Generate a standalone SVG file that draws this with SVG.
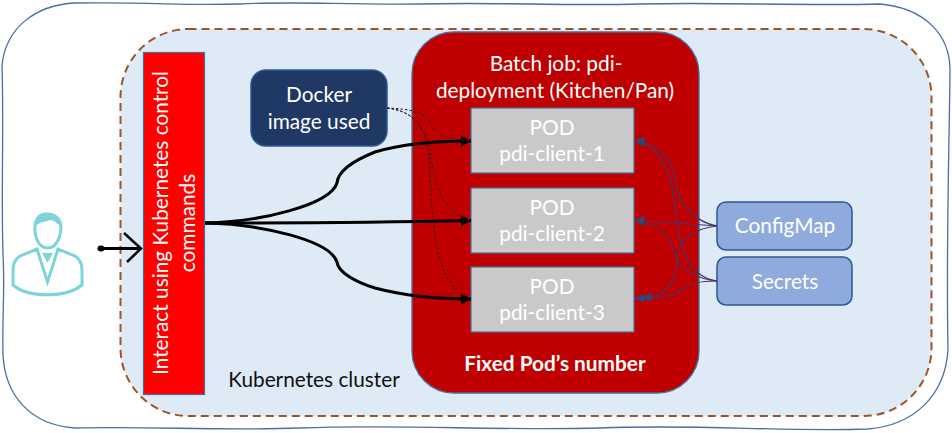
<svg xmlns="http://www.w3.org/2000/svg" width="952" height="433" viewBox="0 0 952 433">
<style>
text{font-family:Lato,"Liberation Sans",sans-serif;fill:#fff;font-size:20.800px;text-anchor:middle}
.pod{fill:#c9c9c9;stroke:#41719c;stroke-width:1.2}
.cfg{fill:#8faadc;stroke:#2f5597;stroke-width:1.5}
.b{fill:none;stroke:#000;stroke-width:3}
.d{fill:none;stroke:#222;stroke-width:1;stroke-dasharray:2.500 2}
.s{fill:none;stroke:#44366a;stroke-width:1.200}
.u{fill:none;stroke:#7fd3da;stroke-width:3}
</style>
<defs>
<marker id="bk" markerUnits="userSpaceOnUse" markerWidth="11" markerHeight="11" refX="10" refY="5.500" orient="auto"><path d="M0 0L10 5.500L0 11Z" fill="#000"/></marker>
<marker id="bl" markerUnits="userSpaceOnUse" markerWidth="10" markerHeight="10" refX="0" refY="4.500" orient="auto"><path d="M9 0L0 4.500L9 9Z" fill="#264a7d"/></marker>
</defs>
<rect width="952" height="433" fill="#fff"/>
<g id="outer"><path d="M2 65C6 28 35 5 75 3C160 2 180 6 240 4C300 1 340 5 420 4C500 2 560 6 640 4C720 2 800 6 880 4C925 8 950 35 950 70C949 160 946 250 948 350C945 395 915 425 868 429C780 432 700 424 600 428C500 431 400 424 300 428C220 431 150 426 75 428C30 425 5 395 3 355C2 320 5 290 3 255C1 190 4 130 2 65Z" fill="#fff" stroke="#4a6ea9" stroke-width="1.300"/></g>
<g id="cluster"><rect x="120.500" y="29" width="811" height="387" rx="68" fill="#deeaf6" stroke="#9c5524" stroke-width="2" stroke-dasharray="8 5"/><text x="314" y="387" style="fill:#111">Kubernetes cluster</text></g>
<g id="batch"><rect x="412" y="32" width="287" height="361" rx="42" fill="#c00000" stroke="#41719c" stroke-width="1.300"/>
<text x="556" y="71">Batch job: pdi-</text><text x="555" y="98">deployment (Kitchen/Pan)</text>
<text x="555" y="371" style="font-weight:700">Fixed Pod’s number</text></g>
<g id="ctl"><rect x="143.500" y="52.500" width="61" height="342" fill="#f00" stroke="#41719c" stroke-width="1.200"/>
<text transform="translate(168 223) rotate(-90)">Interact using Kubernetes control</text>
<text transform="translate(195 223) rotate(-90)">commands</text></g>
<g id="docker"><rect x="251" y="70" width="136" height="76" rx="15" fill="#1f3864" stroke="#2f5597" stroke-width="1.500"/><text x="319" y="102">Docker</text><text x="319" y="129">image used</text></g>
<g id="pod1"><rect class="pod" x="471" y="108" width="163" height="65"/><text x="552" y="135">POD</text><text x="552" y="161">pdi-client-1</text></g>
<g id="pod2"><rect class="pod" x="471" y="188" width="163" height="65"/><text x="552" y="215">POD</text><text x="552" y="241">pdi-client-2</text></g>
<g id="pod3"><rect class="pod" x="471" y="267" width="163" height="65"/><text x="552" y="294">POD</text><text x="552" y="320">pdi-client-3</text></g>
<g id="configmap"><rect class="cfg" x="717" y="202" width="135" height="48" rx="9"/><text x="785" y="233">ConfigMap</text></g>
<g id="secrets"><rect class="cfg" x="717" y="257" width="135" height="48" rx="9"/><text x="785" y="289">Secrets</text></g>
<g id="user">
<path class="u" d="M47.500 248C38 248 34 235 35 226C36 217 41 214 47 214C54 214 60 218 61 226C61 236 57 248 47.500 248Z"/>
<path d="M35 226C36 215 41 213 47 213C54 213 60 217 62 226C56 224 55 220 50 220C45 222 40 222 35 226Z" fill="#7fd3da"/>
<path class="u" d="M37 249L20 256C15 259 13 263 13 270V285C28 298 66 298 82 285V270C82 263 80 259 75 256L58 249L47.500 282Z"/>
<path d="M42 253H53L47.500 263Z" fill="#7fd3da"/>
</g>
<g id="connectors">
<path d="M100 248.500H141" fill="none" stroke="#000" stroke-width="3"/><ellipse cx="101" cy="248.500" rx="3.500" ry="3"/>
<path d="M124 233L141 248.500L127 262" fill="none" stroke="#000" stroke-width="2.500"/>
<path class="b" marker-end="url(#bk)" d="M205 223C260 222 330 205 337 183C338 170 355 160 375 152C405 143 440 141 471 141"/>
<path class="b" marker-end="url(#bk)" d="M205 223C300 223 400 222 471 220.500"/>
<path class="b" marker-end="url(#bk)" d="M205 223C260 224 330 240 337 262C338 272 355 282 375 288C405 296 440 299 471 299"/>
<path class="d" d="M387 108C410 109 425 112 430 122C435 135 450 140 471 141"/>
<path class="d" d="M387 108C410 110 425 125 430 150C435 190 445 215 471 220"/>
<path class="d" d="M387 108C415 112 428 125 430 170C432 240 440 290 471 298"/>
<path class="s" marker-start="url(#bl)" d="M635 140C665 145 675 165 676 185C680 205 695 222 717 226"/>
<path class="s" marker-start="url(#bl)" d="M635 220C660 222 690 224 717 226"/>
<path class="s" marker-start="url(#bl)" d="M642 298C665 296 678 285 677 255C680 240 695 228 717 226"/>
<path class="s" marker-start="url(#bl)" d="M635 140C670 150 672 185 678 225C682 260 695 278 717 281"/>
<path class="s" marker-start="url(#bl)" d="M635 220C665 225 672 240 677 260C685 272 700 279 717 281"/>
<path class="s" marker-start="url(#bl)" d="M635 298C660 298 672 297 680 291C690 283 700 281 717 281"/>
</g>
</svg>
